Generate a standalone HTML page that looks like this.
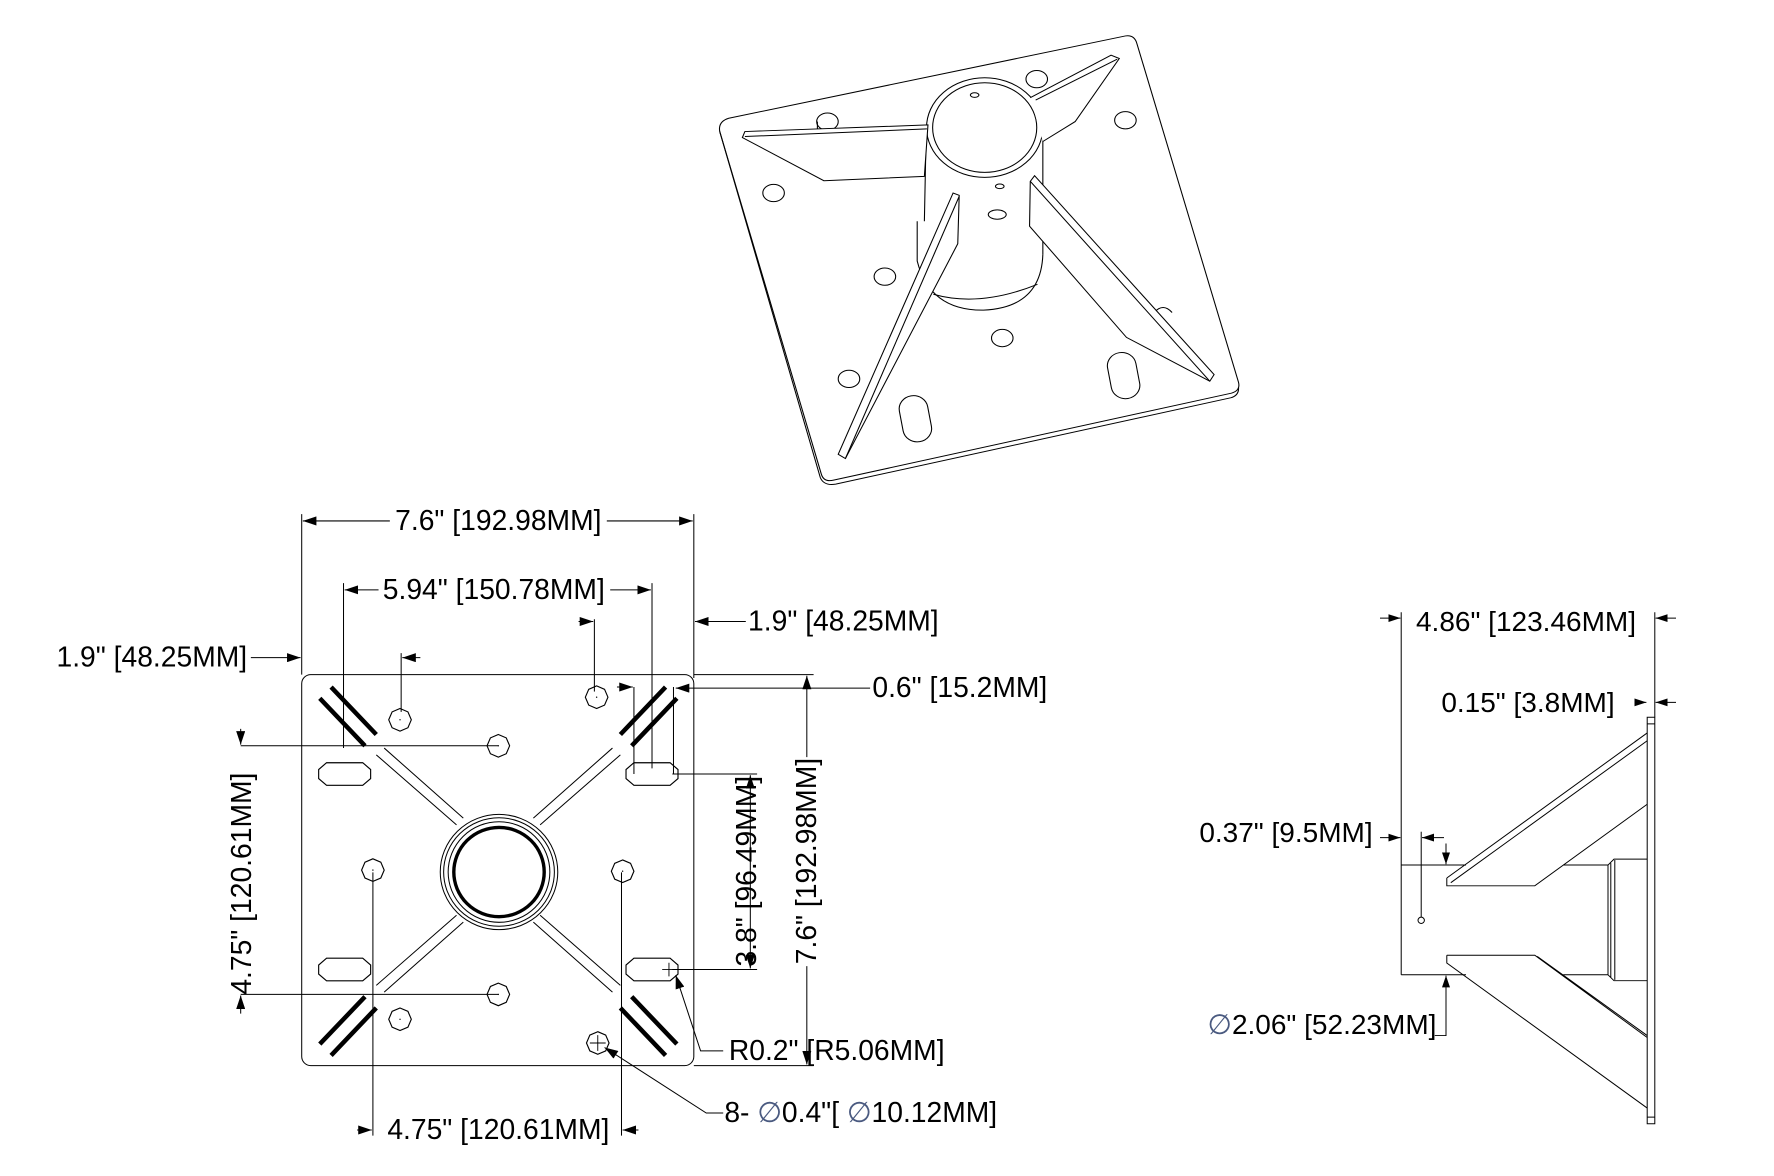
<!DOCTYPE html>
<html><head><meta charset="utf-8"><style>
html,body{margin:0;padding:0;background:#fff;}
svg{display:block;}
text{font-family:"Liberation Sans",Arial,sans-serif;fill:#000;}
</style></head><body>
<svg width="1774" height="1176" viewBox="0 0 1774 1176" xmlns="http://www.w3.org/2000/svg">
<defs>
<marker id="a" markerUnits="userSpaceOnUse" markerWidth="12" markerHeight="8" refX="12" refY="4" orient="auto"><path d="M0,0 L12,4 L0,8 z" fill="#000"/></marker>
<marker id="b" markerUnits="userSpaceOnUse" markerWidth="30" markerHeight="20" refX="30" refY="10" orient="auto"><path d="M0,0 L30,10 L0,20 z" fill="#000"/></marker>
<g id="hole"><polygon points="0,-10 7,-7 10,0 7,7 0,10 -7,7 -10,0 -7,-7" fill="none" stroke="#000" stroke-width="1"/><circle r="0.6" fill="#000"/></g>
<g id="slot"><path d="M-16,-10 L16,-10 L23,-4 L23,4 L16,10 L-16,10 L-23,4 L-23,-4 Z" fill="none" stroke="#000" stroke-width="1"/></g>
</defs>

<!-- ============ ISO VIEW ============ -->
<g transform="translate(700,22) scale(0.359,0.332)" fill="none" stroke="#000" stroke-width="3">
<path d="M80,290 L1185,42 Q1210,38 1217,65 L1500,1085 Q1506,1110 1480,1118 L372,1380 Q345,1387 338,1362 L55,330 Q50,300 80,290 Z"/>
<path d="M55,330 L335,1372 Q345,1398 378,1392 L1478,1132 Q1502,1125 1500,1100"/>
<ellipse cx="355" cy="300" rx="30" ry="26"/><path d="M327,325 L327,300"/>
<ellipse cx="938" cy="172" rx="30" ry="26"/>
<ellipse cx="1185" cy="296" rx="30" ry="26"/>
<ellipse cx="205" cy="515" rx="30" ry="26"/>
<ellipse cx="515" cy="767" rx="30" ry="26"/>
<ellipse cx="842" cy="952" rx="30" ry="26"/>
<ellipse cx="415" cy="1075" rx="30" ry="26"/>
<path d="M1265,875 Q1290,845 1315,875"/>
<rect x="1140" y="995" width="80" height="140" rx="40" transform="rotate(-10 1180 1065)"/>
<rect x="560" y="1125" width="80" height="140" rx="40" transform="rotate(-10 600 1195)"/>
<path d="M605,600 L605,720 Q640,870 790,868 Q950,860 955,700"/>
<path d="M650,820 Q780,860 940,790"/>
<path d="M630,330 L625,600 M955,330 L955,700"/>
<ellipse cx="793" cy="318" rx="162" ry="150" fill="#fff"/>
<ellipse cx="793" cy="318" rx="145" ry="135"/>
<ellipse cx="765" cy="220" rx="12" ry="7"/>
<ellipse cx="835" cy="495" rx="12" ry="7"/>
<ellipse cx="828" cy="580" rx="25" ry="14"/>
<path d="M118,348 L125,330 L635,310 L625,465 L345,478 Z" fill="#fff"/>
<path d="M125,345 L632,322"/>
<path d="M920,228 L1145,100 L1168,110 L1045,300 L955,360" fill="#fff"/>
<path d="M935,235 L1162,112"/>
<path d="M385,1302 L705,515 L722,522 L718,668 L405,1315 Z" fill="#fff"/>
<path d="M405,1315 L722,525"/>
<path d="M932,463 L920,480 L918,615 L1188,950 L1420,1082 L1432,1062 Z" fill="#fff"/>
<path d="M920,480 L1420,1082"/>
</g>

<!-- ============ FRONT VIEW ============ -->
<g transform="scale(1.13)">
<g fill="none" stroke="#000" stroke-width="0.9">
<rect x="267" y="597" width="347" height="346" rx="8"/>
<path d="M345,461 L268,461" marker-end="url(#a)"/>
<path d="M537,461 L613,461" marker-end="url(#a)"/>
<path d="M267,455 L267,597 M614,455 L614,600"/>
<path d="M335,522 L305,522" marker-end="url(#a)"/>
<path d="M540,522 L576,522" marker-end="url(#a)"/>
<path d="M304,516 L304,662 M577,516 L577,680"/>
<path d="M660,550 L615,550" marker-end="url(#a)"/>
<path d="M512,550 L525,550" marker-end="url(#a)"/>
<path d="M526,548 L526,612"/>
<path d="M222,582 L266,582" marker-end="url(#a)"/>
<path d="M372,582 L356,582" marker-end="url(#a)"/>
<path d="M355,578 L355,630"/>
<path d="M770,609 L598,609" marker-end="url(#a)"/>
<path d="M546,608 L560,608" marker-end="url(#a)"/>
<path d="M561,608 L561,685 M596,608 L596,685"/>
<path d="M614,597 L720,597 M614,943 L720,943"/>
<path d="M714,670 L714,598" marker-end="url(#a)"/>
<path d="M714,855 L714,942" marker-end="url(#a)"/>
<path d="M595,685 L670,685 M595,858 L670,858"/>
<path d="M664,770 L664,686" marker-end="url(#a)"/>
<path d="M664,770 L664,857" marker-end="url(#a)"/>
<path d="M213,660 L441,660 M213,880 L441,880"/>
<path d="M213,645 L213,659" marker-end="url(#a)"/>
<path d="M213,897 L213,881" marker-end="url(#a)"/>
<path d="M330,772 L330,1005 M550,772 L550,1005"/>
<path d="M316,1000 L329,1000" marker-end="url(#a)"/>
<path d="M565,1000 L551,1000" marker-end="url(#a)"/>
<path d="M640,930 L620,930 L598,863" marker-end="url(#a)"/>
<path d="M640,985 L625,985 L535,927" marker-end="url(#a)"/>
<path d="M333,668 L404,730 M340,662 L410,724"/>
<path d="M549,668 L478,730 M542,662 L472,724"/>
<path d="M333,872 L404,810 M340,878 L410,816"/>
<path d="M549,872 L478,810 M542,878 L472,816"/>
<ellipse cx="441.6" cy="771.7" rx="52" ry="51"/>
<ellipse cx="441.6" cy="771.7" rx="49" ry="48"/>
<ellipse cx="441.6" cy="771.7" rx="45" ry="44.5"/>
<ellipse cx="441.6" cy="771.7" rx="40" ry="39.5" stroke-width="3"/>
</g>
<g stroke="#000" stroke-width="4" fill="none">
<path d="M283,618 L323,660 M293,608 L333,650"/>
<path d="M599,618 L559,660 M589,608 L549,650"/>
<path d="M283,924 L323,882 M293,934 L333,892"/>
<path d="M599,924 L559,882 M589,934 L549,892"/>
</g>
<use href="#hole" x="354" y="637"/>
<use href="#hole" x="528" y="617"/>
<use href="#hole" x="441" y="660"/>
<use href="#hole" x="330" y="770"/>
<use href="#hole" x="551" y="771"/>
<use href="#hole" x="441" y="880"/>
<use href="#hole" x="354" y="902"/>
<use href="#hole" x="529" y="923"/>
<path d="M522,923 L536,923 M529,916 L529,930" stroke="#000" stroke-width="0.8"/>
<use href="#slot" x="305" y="685"/>
<use href="#slot" x="577" y="685"/>
<use href="#slot" x="305" y="858"/>
<use href="#slot" x="577" y="858"/>
<path d="M586,858 L598,858 M592,852 L592,864" stroke="#000" stroke-width="0.8"/>

<g font-size="25">
<rect x="346" y="448" width="190" height="26" fill="#fff"/>
<text x="441" y="469" text-anchor="middle">7.6" [192.98MM]</text>
<rect x="336" y="508" width="203" height="26" fill="#fff"/>
<text x="437" y="530" text-anchor="middle">5.94" [150.78MM]</text>
<text x="662" y="558">1.9" [48.25MM]</text>
<text x="50" y="590">1.9" [48.25MM]</text>
<text x="772" y="617">0.6" [15.2MM]</text>
<text x="645" y="938">R0.2" [R5.06MM]</text>
<text x="641" y="993">8- <tspan fill="#4a5a80">∅</tspan>0.4"[ <tspan fill="#4a5a80">∅</tspan>10.12MM]</text>
<rect x="338" y="988" width="205" height="26" fill="#fff"/>
<text x="441" y="1008" text-anchor="middle">4.75" [120.61MM]</text>
<text transform="translate(722,762) rotate(-90)" text-anchor="middle">7.6" [192.98MM]</text>
<text transform="translate(669,771) rotate(-90)" text-anchor="middle">3.8" [96.49MM]</text>
<text transform="translate(222,782) rotate(-90)" text-anchor="middle">4.75" [120.61MM]</text>
</g>
</g>

<!-- ============ SIDE VIEW ============ -->
<g transform="translate(1150,573) scale(0.4,0.392)" fill="none" stroke="#000" stroke-width="2.5">
<rect x="1243" y="368" width="19" height="1037"/>
<path d="M1243,385 L1262,385 M1243,1388 L1262,1388"/>
<path d="M628,100 L628,1025 M1262,100 L1262,368"/>
<path d="M575,115 L626,115" marker-end="url(#b)"/>
<path d="M1315,115 L1264,115" marker-end="url(#b)"/>
<path d="M1215,330 L1241,330" marker-end="url(#b)"/>
<path d="M1315,330 L1264,330" marker-end="url(#b)"/>
<path d="M575,675 L626,675" marker-end="url(#b)"/>
<path d="M735,675 L680,675" marker-end="url(#b)"/>
<path d="M678,660 L678,878"/>
<circle cx="678" cy="886" r="8"/>
<path d="M740,690 L740,743" marker-end="url(#b)"/>
<path d="M712,1180 L740,1180 L740,1027" marker-end="url(#b)"/>
<path d="M628,745 L790,745 M628,1025 L790,1025"/>
<path d="M742,778 L742,798 L962,798 L1243,590 M742,778 L1243,408 M752,790 L1243,428"/>
<path d="M742,975 L742,995 L1243,1365 M742,975 L962,975 L1243,1185 M968,978 L1243,1180"/>
<path d="M1033,745 L1145,745 M1033,1025 L1145,1025"/>
<path d="M1145,745 L1160,730 L1243,730 M1145,1025 L1160,1040 L1243,1040 M1145,745 L1145,1025 M1152,740 L1152,1032 M1162,732 L1162,1038"/>
</g>
<g font-size="28">
<text x="1526" y="631" text-anchor="middle">4.86" [123.46MM]</text>
<text x="1528" y="712" text-anchor="middle">0.15" [3.8MM]</text>
<text x="1286" y="842" text-anchor="middle">0.37" [9.5MM]</text>
<text x="1322" y="1034" text-anchor="middle"><tspan fill="#4a5a80">∅</tspan>2.06" [52.23MM]</text>
</g>
</svg>
</body></html>
